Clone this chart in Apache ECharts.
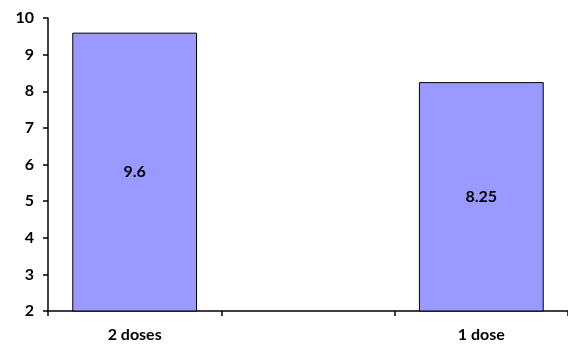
<!DOCTYPE html>
<html><head><meta charset="utf-8">
<script src="https://cdn.jsdelivr.net/npm/echarts@6/dist/echarts.min.js"></script>
<style>html,body{margin:0;padding:0;background:#fff}#c{width:568px;height:352px}</style>
</head><body><div id="c"></div>
<script>
const categories = ["2 doses", "", "1 dose"];
const values = [9.6, null, 8.25];
const yTicks = [2, 3, 4, 5, 6, 7, 8, 9, 10];

const chart = echarts.init(document.getElementById('c'), null, {renderer: 'canvas'});
const font = 'Lato, "Liberation Sans", sans-serif';
chart.setOption({
  animation: false,
  backgroundColor: '#fff',
  grid: {left: 48, right: -3, top: 18, bottom: 41, containLabel: false},
  xAxis: {
    type: 'category', data: categories,
    axisLine: {lineStyle: {color: '#000', width: 1.5}},
    axisTick: {show: true, length: 5, alignWithLabel: false, lineStyle: {color: '#000', width: 1.5}},
    axisLabel: {color: '#000', fontWeight: 'bold', fontSize: 16, fontFamily: font, margin: 16}
  },
  yAxis: {
    type: 'value', min: yTicks[0], max: yTicks[yTicks.length - 1], interval: 1,
    axisLine: {show: true, lineStyle: {color: '#000', width: 1.5}},
    axisTick: {show: true, length: 5, lineStyle: {color: '#000', width: 1.5}},
    splitLine: {show: false},
    axisLabel: {color: '#000', fontWeight: 'bold', fontSize: 16, fontFamily: font, margin: 14}
  },
  series: [{
    type: 'bar', data: values, barCategoryGap: '28%',
    itemStyle: {color: '#9999FF', borderColor: '#000', borderWidth: 1},
    label: {show: true, position: 'inside', color: '#000', fontWeight: 'bold', fontSize: 16, fontFamily: font}
  }]
});
</script></body></html>
